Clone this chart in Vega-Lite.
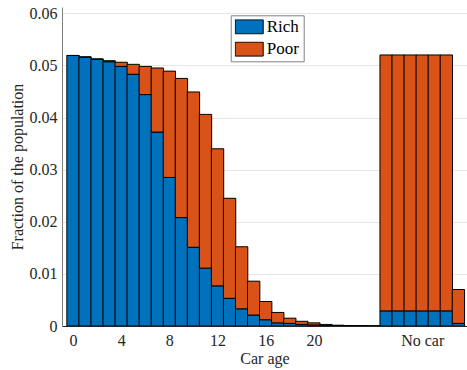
{
  "$schema": "https://vega.github.io/schema/vega-lite/v6.json",
  "width": 405,
  "height": 319,
  "autosize": {"type": "none"},
  "padding": {"left": 62, "top": 7, "right": 0, "bottom": 44},
  "config": {"font": "Liberation Serif", "view": {"stroke": null}},
  "data": {
    "values": [
      {"pos": 0, "group": "Rich", "value": 0.0519}, {"pos": 0, "group": "Poor", "value": 0},
      {"pos": 1, "group": "Rich", "value": 0.0516}, {"pos": 1, "group": "Poor", "value": 0},
      {"pos": 2, "group": "Rich", "value": 0.0512}, {"pos": 2, "group": "Poor", "value": 0},
      {"pos": 3, "group": "Rich", "value": 0.0507}, {"pos": 3, "group": "Poor", "value": 0.0002},
      {"pos": 4, "group": "Rich", "value": 0.0498}, {"pos": 4, "group": "Poor", "value": 0.0008},
      {"pos": 5, "group": "Rich", "value": 0.0483}, {"pos": 5, "group": "Poor", "value": 0.0019},
      {"pos": 6, "group": "Rich", "value": 0.0444}, {"pos": 6, "group": "Poor", "value": 0.0054},
      {"pos": 7, "group": "Rich", "value": 0.0372}, {"pos": 7, "group": "Poor", "value": 0.0123},
      {"pos": 8, "group": "Rich", "value": 0.0285}, {"pos": 8, "group": "Poor", "value": 0.0204},
      {"pos": 9, "group": "Rich", "value": 0.0208}, {"pos": 9, "group": "Poor", "value": 0.0267},
      {"pos": 10, "group": "Rich", "value": 0.0151}, {"pos": 10, "group": "Poor", "value": 0.0298},
      {"pos": 11, "group": "Rich", "value": 0.0111}, {"pos": 11, "group": "Poor", "value": 0.0295},
      {"pos": 12, "group": "Rich", "value": 0.0077}, {"pos": 12, "group": "Poor", "value": 0.0263},
      {"pos": 13, "group": "Rich", "value": 0.0053}, {"pos": 13, "group": "Poor", "value": 0.0192},
      {"pos": 14, "group": "Rich", "value": 0.0033}, {"pos": 14, "group": "Poor", "value": 0.0119},
      {"pos": 15, "group": "Rich", "value": 0.0021}, {"pos": 15, "group": "Poor", "value": 0.0065},
      {"pos": 16, "group": "Rich", "value": 0.0012}, {"pos": 16, "group": "Poor", "value": 0.0035},
      {"pos": 17, "group": "Rich", "value": 0.0006}, {"pos": 17, "group": "Poor", "value": 0.0020},
      {"pos": 18, "group": "Rich", "value": 0.0005}, {"pos": 18, "group": "Poor", "value": 0.0010},
      {"pos": 19, "group": "Rich", "value": 0.0003}, {"pos": 19, "group": "Poor", "value": 0.0006},
      {"pos": 20, "group": "Rich", "value": 0.0002}, {"pos": 20, "group": "Poor", "value": 0.0004},
      {"pos": 21, "group": "Rich", "value": 0.0001}, {"pos": 21, "group": "Poor", "value": 0.0002},
      {"pos": 22, "group": "Rich", "value": 0.00005}, {"pos": 22, "group": "Poor", "value": 0.0001},
      {"pos": 23, "group": "Rich", "value": 0.00003}, {"pos": 23, "group": "Poor", "value": 0.00005},
      {"pos": 24, "group": "Rich", "value": 0.00002}, {"pos": 24, "group": "Poor", "value": 0.00003},
      {"pos": 25, "group": "Rich", "value": 0}, {"pos": 25, "group": "Poor", "value": 0},
      {"pos": 26, "group": "Rich", "value": 0.0029}, {"pos": 26, "group": "Poor", "value": 0.0491},
      {"pos": 27, "group": "Rich", "value": 0.0029}, {"pos": 27, "group": "Poor", "value": 0.0491},
      {"pos": 28, "group": "Rich", "value": 0.0029}, {"pos": 28, "group": "Poor", "value": 0.0491},
      {"pos": 29, "group": "Rich", "value": 0.0029}, {"pos": 29, "group": "Poor", "value": 0.0491},
      {"pos": 30, "group": "Rich", "value": 0.0029}, {"pos": 30, "group": "Poor", "value": 0.0491},
      {"pos": 31, "group": "Rich", "value": 0.0029}, {"pos": 31, "group": "Poor", "value": 0.0491},
      {"pos": 32, "group": "Rich", "value": 0.0005}, {"pos": 32, "group": "Poor", "value": 0.0065}
    ]
  },
  "mark": {"type": "bar", "width": 12.35, "stroke": "black", "strokeWidth": 1, "clip": true},
  "encoding": {
    "x": {
      "field": "pos",
      "type": "quantitative",
      "scale": {"domain": [-0.5, 32.3], "nice": false, "zero": false},
      "axis": {
        "values": [0, 4, 8, 12, 16, 20, 29],
        "labelExpr": "datum.value == 29 ? 'No car' : datum.label",
        "grid": false,
        "ticks": false,
        "title": "Car age",
        "titleFont": "Liberation Serif",
        "titleFontSize": 16,
        "titleFontWeight": "normal",
        "titleColor": "#262626",
        "titlePadding": 2,
        "labelFont": "Liberation Serif",
        "labelFontSize": 16,
        "labelColor": "#262626",
        "labelPadding": 6,
        "domainColor": "#262626",
        "labelFlush": false,
        "labelOverlap": false
      }
    },
    "y": {
      "field": "value",
      "type": "quantitative",
      "stack": "zero",
      "scale": {"domain": [0, 0.0612], "nice": false},
      "axis": {
        "values": [0, 0.01, 0.02, 0.03, 0.04, 0.05, 0.06],
        "format": ".2~f",
        "grid": true,
        "gridColor": "#e6e6e6",
        "ticks": false,
        "title": "Fraction of the population",
        "titleFont": "Liberation Serif",
        "titleFontSize": 16,
        "titleFontWeight": "normal",
        "titleColor": "#262626",
        "titlePadding": 4,
        "labelFont": "Liberation Serif",
        "labelFontSize": 16,
        "labelColor": "#262626",
        "labelPadding": 5,
        "domainColor": "#808080",
        "labelFlush": false,
        "labelOverlap": false
      }
    },
    "color": {
      "field": "group",
      "type": "nominal",
      "sort": ["Rich", "Poor"],
      "scale": {"domain": ["Rich", "Poor"], "range": ["#0072BD", "#D95319"]},
      "legend": {
        "title": null,
        "orient": "none",
        "legendX": 168.7,
        "legendY": 8.3,
        "symbolType": "M-1,-0.5H1V0.5H-1Z",
        "symbolSize": 784,
        "symbolStrokeColor": "black",
        "symbolStrokeWidth": 1,
        "symbolOpacity": 1,
        "labelFont": "Liberation Serif",
        "labelFontSize": 17,
        "labelColor": "black",
        "labelOffset": 3,
        "clipHeight": 15,
        "strokeColor": "#808080",
        "fillColor": "white",
        "padding": 4,
        "rowPadding": 4.3
      }
    },
    "order": {"field": "group", "sort": "descending"}
  }
}
